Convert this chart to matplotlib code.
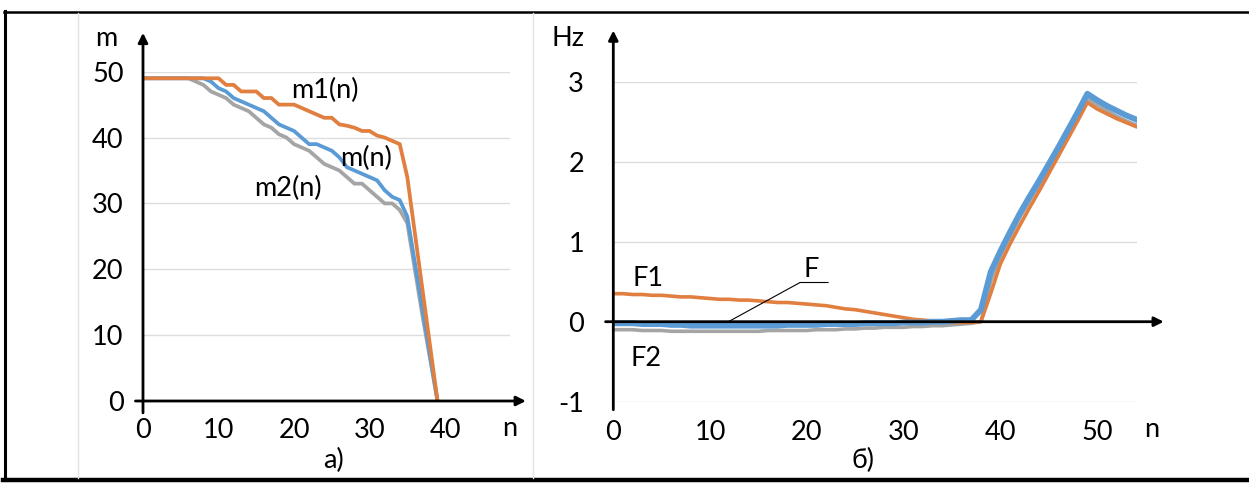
import matplotlib
matplotlib.use("Agg")
import matplotlib.pyplot as plt
from matplotlib.lines import Line2D

# ---------------------------------------------------------------
# Data
# ---------------------------------------------------------------
n_left = list(range(0, 40))
m1 = [49, 49, 49, 49, 49, 49, 49, 49, 49, 49,
      49, 48, 48, 47, 47, 47, 46, 46, 45, 45,
      45, 44.5, 44, 43.5, 43, 43, 42, 41.8, 41.5, 41,
      41, 40.3, 40, 39.5, 39, 34, 25.5, 17, 8.5, 0]
m = [49, 49, 49, 49, 49, 49, 49, 49, 49, 48.5,
     47.5, 47, 46, 45.5, 45, 44.5, 44, 43, 42, 41.5,
     41, 40, 39, 39, 38.5, 38, 37, 35.5, 35, 34.5,
     34, 33.5, 32, 31, 30.5, 28, 21, 14, 7, 0]
m2 = [49, 49, 49, 49, 49, 49, 49, 48.5, 48, 47,
      46.5, 46, 45, 44.5, 44, 43, 42, 41.5, 40.5, 40,
      39, 38.5, 38, 37, 36, 35.5, 35, 34, 33, 33,
      32, 31, 30, 30, 29, 27, 20, 13, 6.5, 0]

n_right = list(range(0, 55))
F1 = [0.35, 0.35, 0.34, 0.34, 0.33, 0.33, 0.32, 0.31, 0.31, 0.30,
      0.29, 0.28, 0.28, 0.27, 0.27, 0.26, 0.25, 0.24, 0.24, 0.23,
      0.22, 0.21, 0.20, 0.18, 0.16, 0.15, 0.13, 0.11, 0.09, 0.07,
      0.05, 0.03, 0.02, 0.01, 0.00, -0.01, -0.01, -0.01, 0.00, 0.35,
      0.72, 0.97, 1.20, 1.42, 1.63, 1.85, 2.07, 2.29, 2.51, 2.74,
      2.66, 2.60, 2.54, 2.49, 2.44]
F = [-0.02, -0.02, -0.02, -0.03, -0.03, -0.03, -0.04, -0.04, -0.05, -0.05,
     -0.05, -0.05, -0.05, -0.05, -0.05, -0.05, -0.05, -0.05, -0.04, -0.04,
     -0.04, -0.04, -0.03, -0.03, -0.03, -0.03, -0.02, -0.02, -0.02, -0.02,
     -0.01, -0.01, -0.01, 0.00, 0.00, 0.01, 0.02, 0.02, 0.15, 0.62,
     0.88, 1.12, 1.35, 1.56, 1.76, 1.97, 2.18, 2.40, 2.62, 2.85,
     2.77, 2.70, 2.64, 2.58, 2.53]
F2 = [-0.10, -0.10, -0.10, -0.11, -0.11, -0.11, -0.12, -0.12, -0.12, -0.12,
      -0.12, -0.12, -0.12, -0.12, -0.12, -0.12, -0.11, -0.11, -0.11, -0.11,
      -0.11, -0.10, -0.10, -0.10, -0.09, -0.09, -0.08, -0.08, -0.07, -0.07,
      -0.07, -0.06, -0.06, -0.05, -0.05, -0.04, -0.03, -0.02, 0.00, 0.50,
      0.82, 1.06, 1.30, 1.51, 1.71, 1.92, 2.13, 2.35, 2.57, 2.79,
      2.71, 2.64, 2.57, 2.51, 2.46]

left_xticks = [0, 10, 20, 30, 40]
left_yticks = [0, 10, 20, 30, 40, 50]
right_xticks = [0, 10, 20, 30, 40, 50]
right_yticks = [-1, 0, 1, 2, 3]

# ---------------------------------------------------------------
# Styling
# ---------------------------------------------------------------
plt.rcParams["font.family"] = ["Lato", "Open Sans", "DejaVu Sans"]
plt.rcParams["axes.unicode_minus"] = False
FS = 19.5
BLUE = "#5B9BD5"
ORANGE = "#E07F3F"
GRAY = "#A5A5A5"
GRID = "#DDDDDD"

W, H = 1249, 484
fig = plt.figure(figsize=(W / 100, H / 100), dpi=100)


def fx(x):
    return x / W


def fy(y):
    return 1 - y / H


def frame_line(x0, y0, x1, y1, color, lw):
    fig.add_artist(Line2D([fx(x0), fx(x1)], [fy(y0), fy(y1)],
                          color=color, lw=lw, transform=fig.transFigure))


# outer frame and separators
frame_line(4, 11.7, W, 11.7, "black", 1.8)
frame_line(4.5, 11, 4.5, 480, "black", 2.2)
frame_line(3, 479.5, W, 479.5, "black", 3.2)
frame_line(78, 13, 78, 478, "#E3E3E3", 1.0)
frame_line(533, 13, 533, 478, "#E3E3E3", 1.0)


def style_axes(ax, xpad, ypad):
    for s in ax.spines.values():
        s.set_visible(False)
    ax.tick_params(length=0, labelsize=FS)
    ax.tick_params(axis="x", pad=xpad)
    ax.tick_params(axis="y", pad=ypad)
    ax.yaxis.grid(True, color=GRID, lw=1.0)
    ax.set_axisbelow(True)
    ax.patch.set_alpha(0)


def arrow(ax, start, end):
    ax.annotate("", xy=end, xytext=start,
                arrowprops=dict(arrowstyle="-|>", lw=2.0, color="black",
                                mutation_scale=14, shrinkA=0, shrinkB=0),
                annotation_clip=False, zorder=5)


# ---------------------------------------------------------------
# a) m(n)
# ---------------------------------------------------------------
ax1 = fig.add_axes([fx(143), fy(401), fx(510) - fx(143), (401 - 71.7) / H])
ax1.set_xlim(0, 48.6)
ax1.set_ylim(0, 50)
ax1.set_xticks(left_xticks)
ax1.set_yticks(left_yticks)
style_axes(ax1, 12.5, 14)

ax1.plot(n_left, m2, color=GRAY, lw=2.7, solid_joinstyle="miter", zorder=3)
ax1.plot(n_left, m, color=BLUE, lw=2.7, solid_joinstyle="miter", zorder=3)
ax1.plot(n_left, m1, color=ORANGE, lw=2.7, solid_joinstyle="miter", zorder=3)

arrow(ax1, (-1.0, 0), (50.7, 0))
arrow(ax1, (0, -1.8), (0, 55.9))

ax1.text(24.1, 47.1, "m1(n)", fontsize=FS, ha="center", va="center")
ax1.text(29.5, 36.9, "m(n)", fontsize=FS, ha="center", va="center")
ax1.text(19.2, 32.3, "m2(n)", fontsize=FS, ha="center", va="center")
ax1.text(-4.9, 55.0, "m", fontsize=FS, ha="center", va="center", clip_on=False)
ax1.text(48.6, -4.1, "n", fontsize=FS, ha="center", va="center", clip_on=False)

# ---------------------------------------------------------------
# б) F(n)
# ---------------------------------------------------------------
ax2 = fig.add_axes([fx(613.3), fy(401.7), fx(1136.7) - fx(613.3), (401.7 - 81.7) / H])
ax2.set_xlim(0, 54.1)
ax2.set_ylim(-1, 3)
ax2.set_xticks(right_xticks)
ax2.set_yticks(right_yticks)
style_axes(ax2, 13, 21)

ax2.plot(n_right, F2, color=GRAY, lw=2.6, zorder=3)
ax2.plot(n_right, F1, color=ORANGE, lw=2.6, zorder=3)
ax2.plot(n_right, F, color=BLUE, lw=4.2, zorder=3)

arrow(ax2, (-0.8, 0), (56.9, 0))
arrow(ax2, (0, -1.1), (0, 3.64))

ax2.plot([11.9, 19.3, 22.2], [0, 0.49, 0.49], color="black", lw=0.8, zorder=6)
ax2.text(20.5, 0.65, "F", fontsize=FS, ha="center", va="center")
ax2.text(3.6, 0.54, "F1", fontsize=FS, ha="center", va="center")
ax2.text(3.4, -0.46, "F2", fontsize=FS, ha="center", va="center")
ax2.text(-4.7, 3.54, "Hz", fontsize=FS, ha="center", va="center", clip_on=False)
ax2.text(55.6, -1.35, "n", fontsize=FS, ha="center", va="center", clip_on=False)

fig.text(fx(333), fy(460), "а)", fontsize=FS, ha="center", va="center")
fig.text(fx(863), fy(460), "б)", fontsize=FS, ha="center", va="center")

fig.savefig("out.png", dpi=100)
